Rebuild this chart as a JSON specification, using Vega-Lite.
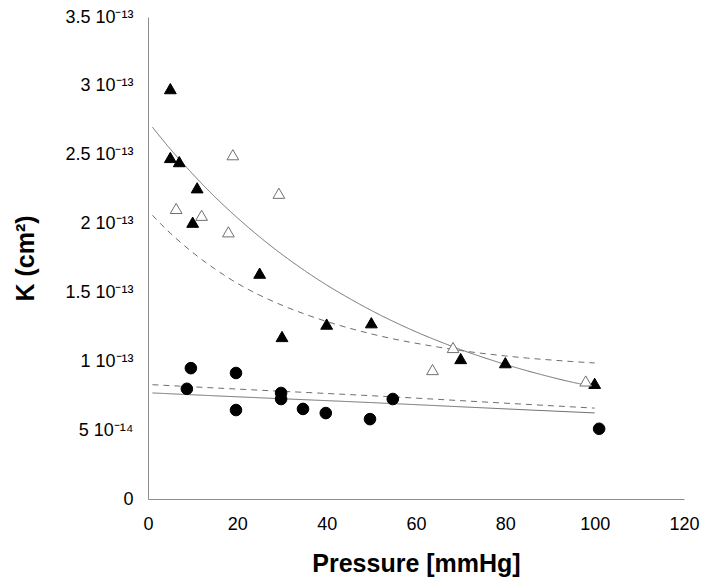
{
  "$schema": "https://vega.github.io/schema/vega-lite/v6.json",
  "width": 536,
  "height": 482,
  "autosize": {"type": "none"},
  "padding": {"left": 148, "top": 17, "right": 25, "bottom": 87},
  "background": "white",
  "config": {
    "view": {"stroke": null},
    "font": "Liberation Sans",
    "axis": {
      "grid": false,
      "ticks": false,
      "domainColor": "#8c8c8c",
      "domainWidth": 1,
      "labelFont": "Liberation Sans",
      "labelFontSize": 18,
      "labelColor": "#000000",
      "labelFlush": false,
      "labelOverlap": false,
      "titleFont": "Liberation Sans",
      "titleFontSize": 25,
      "titleFontWeight": "bold",
      "titleColor": "#000000"
    }
  },
  "datasets": {
    "points": [
      {"series": "filled triangle", "pressure": 5, "K": 2.98e-13},
      {"series": "filled triangle", "pressure": 5, "K": 2.48e-13},
      {"series": "filled triangle", "pressure": 7, "K": 2.45e-13},
      {"series": "filled triangle", "pressure": 11, "K": 2.26e-13},
      {"series": "filled triangle", "pressure": 10, "K": 2.01e-13},
      {"series": "filled triangle", "pressure": 25, "K": 1.64e-13},
      {"series": "filled triangle", "pressure": 30, "K": 1.18e-13},
      {"series": "filled triangle", "pressure": 40, "K": 1.27e-13},
      {"series": "filled triangle", "pressure": 50, "K": 1.28e-13},
      {"series": "filled triangle", "pressure": 70, "K": 1.02e-13},
      {"series": "filled triangle", "pressure": 80, "K": 0.99e-13},
      {"series": "filled triangle", "pressure": 100, "K": 0.84e-13},
      {"series": "open triangle", "pressure": 6.3, "K": 2.11e-13},
      {"series": "open triangle", "pressure": 12, "K": 2.06e-13},
      {"series": "open triangle", "pressure": 18, "K": 1.94e-13},
      {"series": "open triangle", "pressure": 19, "K": 2.5e-13},
      {"series": "open triangle", "pressure": 29.3, "K": 2.22e-13},
      {"series": "open triangle", "pressure": 63.7, "K": 0.94e-13},
      {"series": "open triangle", "pressure": 68.3, "K": 1.1e-13},
      {"series": "open triangle", "pressure": 98, "K": 0.857e-13},
      {"series": "filled circle", "pressure": 8.7, "K": 0.8e-13},
      {"series": "filled circle", "pressure": 9.6, "K": 0.95e-13},
      {"series": "filled circle", "pressure": 19.7, "K": 0.915e-13},
      {"series": "filled circle", "pressure": 19.7, "K": 0.646e-13},
      {"series": "filled circle", "pressure": 29.8, "K": 0.77e-13},
      {"series": "filled circle", "pressure": 29.8, "K": 0.726e-13},
      {"series": "filled circle", "pressure": 34.7, "K": 0.654e-13},
      {"series": "filled circle", "pressure": 39.8, "K": 0.624e-13},
      {"series": "filled circle", "pressure": 49.7, "K": 0.58e-13},
      {"series": "filled circle", "pressure": 54.8, "K": 0.726e-13},
      {"series": "filled circle", "pressure": 101, "K": 0.51e-13}
    ],
    "curves": [
      {"curve": "upper solid", "style": "solid", "pressure": 1, "K": 2.70e-13},
      {"curve": "upper solid", "style": "solid", "pressure": 5, "K": 2.541e-13},
      {"curve": "upper solid", "style": "solid", "pressure": 10, "K": 2.360e-13},
      {"curve": "upper solid", "style": "solid", "pressure": 15, "K": 2.193e-13},
      {"curve": "upper solid", "style": "solid", "pressure": 20, "K": 2.042e-13},
      {"curve": "upper solid", "style": "solid", "pressure": 25, "K": 1.903e-13},
      {"curve": "upper solid", "style": "solid", "pressure": 30, "K": 1.776e-13},
      {"curve": "upper solid", "style": "solid", "pressure": 35, "K": 1.660e-13},
      {"curve": "upper solid", "style": "solid", "pressure": 40, "K": 1.554e-13},
      {"curve": "upper solid", "style": "solid", "pressure": 45, "K": 1.458e-13},
      {"curve": "upper solid", "style": "solid", "pressure": 50, "K": 1.369e-13},
      {"curve": "upper solid", "style": "solid", "pressure": 55, "K": 1.288e-13},
      {"curve": "upper solid", "style": "solid", "pressure": 60, "K": 1.214e-13},
      {"curve": "upper solid", "style": "solid", "pressure": 65, "K": 1.147e-13},
      {"curve": "upper solid", "style": "solid", "pressure": 70, "K": 1.085e-13},
      {"curve": "upper solid", "style": "solid", "pressure": 75, "K": 1.029e-13},
      {"curve": "upper solid", "style": "solid", "pressure": 80, "K": 0.977e-13},
      {"curve": "upper solid", "style": "solid", "pressure": 85, "K": 0.930e-13},
      {"curve": "upper solid", "style": "solid", "pressure": 90, "K": 0.887e-13},
      {"curve": "upper solid", "style": "solid", "pressure": 95, "K": 0.848e-13},
      {"curve": "upper solid", "style": "solid", "pressure": 100, "K": 0.815e-13},
      {"curve": "upper dashed", "style": "dashed", "pressure": 1, "K": 2.060e-13},
      {"curve": "upper dashed", "style": "dashed", "pressure": 5, "K": 1.930e-13},
      {"curve": "upper dashed", "style": "dashed", "pressure": 10, "K": 1.790e-13},
      {"curve": "upper dashed", "style": "dashed", "pressure": 15, "K": 1.670e-13},
      {"curve": "upper dashed", "style": "dashed", "pressure": 20, "K": 1.566e-13},
      {"curve": "upper dashed", "style": "dashed", "pressure": 25, "K": 1.480e-13},
      {"curve": "upper dashed", "style": "dashed", "pressure": 30, "K": 1.407e-13},
      {"curve": "upper dashed", "style": "dashed", "pressure": 35, "K": 1.344e-13},
      {"curve": "upper dashed", "style": "dashed", "pressure": 40, "K": 1.289e-13},
      {"curve": "upper dashed", "style": "dashed", "pressure": 45, "K": 1.241e-13},
      {"curve": "upper dashed", "style": "dashed", "pressure": 50, "K": 1.199e-13},
      {"curve": "upper dashed", "style": "dashed", "pressure": 55, "K": 1.162e-13},
      {"curve": "upper dashed", "style": "dashed", "pressure": 60, "K": 1.131e-13},
      {"curve": "upper dashed", "style": "dashed", "pressure": 65, "K": 1.103e-13},
      {"curve": "upper dashed", "style": "dashed", "pressure": 70, "K": 1.078e-13},
      {"curve": "upper dashed", "style": "dashed", "pressure": 75, "K": 1.057e-13},
      {"curve": "upper dashed", "style": "dashed", "pressure": 80, "K": 1.039e-13},
      {"curve": "upper dashed", "style": "dashed", "pressure": 85, "K": 1.023e-13},
      {"curve": "upper dashed", "style": "dashed", "pressure": 90, "K": 1.010e-13},
      {"curve": "upper dashed", "style": "dashed", "pressure": 95, "K": 0.998e-13},
      {"curve": "upper dashed", "style": "dashed", "pressure": 100, "K": 0.988e-13},
      {"curve": "lower solid", "style": "solid", "pressure": 1, "K": 0.77e-13},
      {"curve": "lower solid", "style": "solid", "pressure": 25, "K": 0.735e-13},
      {"curve": "lower solid", "style": "solid", "pressure": 50, "K": 0.70e-13},
      {"curve": "lower solid", "style": "solid", "pressure": 75, "K": 0.662e-13},
      {"curve": "lower solid", "style": "solid", "pressure": 100, "K": 0.625e-13},
      {"curve": "lower dashed", "style": "dashed", "pressure": 1, "K": 0.83e-13},
      {"curve": "lower dashed", "style": "dashed", "pressure": 25, "K": 0.79e-13},
      {"curve": "lower dashed", "style": "dashed", "pressure": 50, "K": 0.75e-13},
      {"curve": "lower dashed", "style": "dashed", "pressure": 75, "K": 0.705e-13},
      {"curve": "lower dashed", "style": "dashed", "pressure": 100, "K": 0.66e-13}
    ]
  },
  "layer": [
    {
      "data": {"name": "curves"},
      "mark": {"type": "line", "strokeWidth": 1, "color": "#6e6e6e", "interpolate": "natural"},
      "encoding": {
        "x": {
          "field": "pressure", "type": "quantitative",
          "scale": {"domain": [0, 120], "nice": false},
          "axis": {
            "values": [0, 20, 40, 60, 80, 100, 120],
            "labelPadding": 16,
            "title": "Pressure [mmHg]",
            "titleX": 268,
            "titleY": 64,
            "titleBaseline": "middle",
            "titleAlign": "center"
          }
        },
        "y": {
          "field": "K", "type": "quantitative",
          "scale": {"domain": [0, 3.5e-13], "nice": false},
          "axis": {
            "values": [0, 5e-14, 1e-13, 1.5e-13, 2e-13, 2.5e-13, 3e-13, 3.5e-13],
            "labelPadding": 15,
            "labelExpr": "datum.value == 0 ? '0' : (datum.value < 0.9e-13 ? format(datum.value * 1e14, '~g') + ' 10⁻¹⁴' : format(datum.value * 1e13, '~g') + ' 10⁻¹³')",
            "title": "K (cm²)",
            "titleX": -123,
            "titleY": 241,
            "titleAngle": -90,
            "titleBaseline": "middle",
            "titleAlign": "center"
          }
        },
        "detail": {"field": "curve", "type": "nominal"},
        "strokeDash": {
          "field": "style", "type": "nominal",
          "scale": {"domain": ["solid", "dashed"], "range": [[1, 0], [6, 5]]},
          "legend": null
        }
      }
    },
    {
      "data": {"name": "points"},
      "mark": {"type": "point", "filled": true, "opacity": 1, "strokeWidth": 1},
      "encoding": {
        "x": {"field": "pressure", "type": "quantitative"},
        "y": {"field": "K", "type": "quantitative"},
        "shape": {
          "field": "series", "type": "nominal",
          "scale": {"domain": ["filled triangle", "open triangle", "filled circle"], "range": ["triangle-up", "triangle-up", "circle"]},
          "legend": null
        },
        "fill": {
          "field": "series", "type": "nominal",
          "scale": {"domain": ["filled triangle", "open triangle", "filled circle"], "range": ["#000000", "#ffffff", "#000000"]},
          "legend": null
        },
        "stroke": {
          "field": "series", "type": "nominal",
          "scale": {"domain": ["filled triangle", "open triangle", "filled circle"], "range": ["#000000", "#707070", "#000000"]},
          "legend": null
        },
        "size": {
          "field": "series", "type": "nominal",
          "scale": {"domain": ["filled triangle", "open triangle", "filled circle"], "range": [140, 135, 165]},
          "legend": null
        }
      }
    }
  ]
}
